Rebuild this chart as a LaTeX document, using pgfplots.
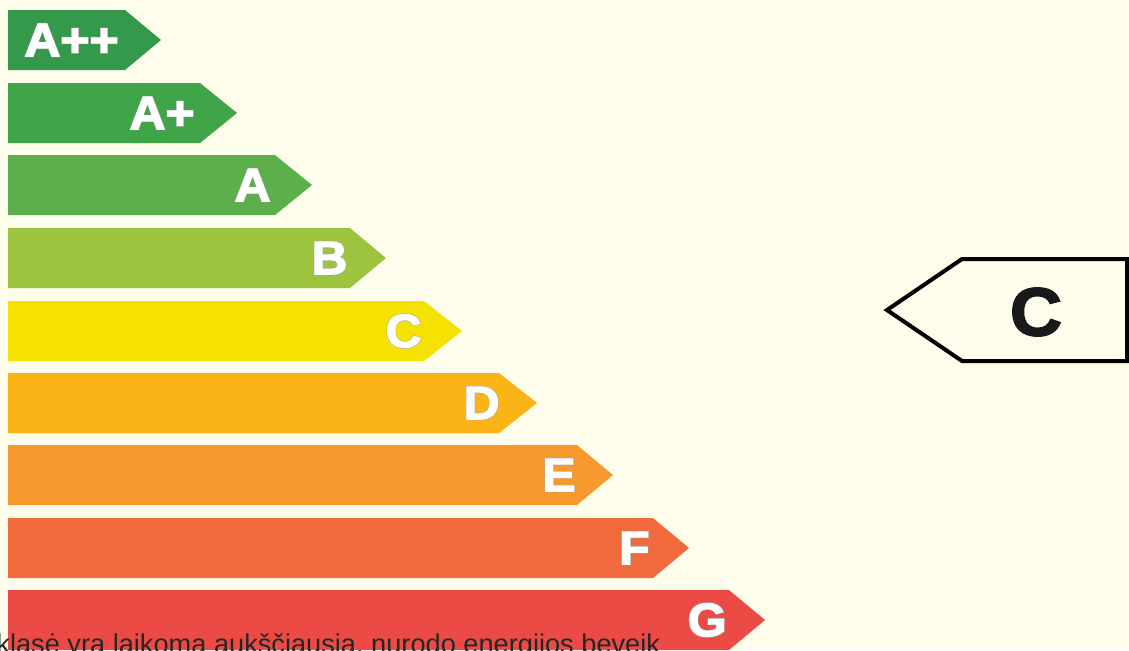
\documentclass[border=0pt]{standalone}
\usepackage{pgfplots}
\pgfplotsset{compat=1.18}
\usepackage{fontspec}
\setmainfont{Liberation Sans}
\newfontfamily\heavy[BoldFeatures={FakeBold=2.5,FakeStretch=1.06}]{Liberation Sans}
\newfontfamily\heavyrim[BoldFeatures={FakeBold=4.5,FakeStretch=1.06}]{Liberation Sans}

\definecolor{bg}{HTML}{FEFCEB}
\definecolor{cApp}{HTML}{34994A}
\definecolor{cAp}{HTML}{40A448}
\definecolor{cA}{HTML}{5DAF4B}
\definecolor{cB}{HTML}{9CC43F}
\definecolor{cC}{HTML}{F6E202}
\definecolor{cD}{HTML}{FAB416}
\definecolor{cE}{HTML}{F6992E}
\definecolor{cF}{HTML}{F16A3C}
\definecolor{cG}{HTML}{EC4B45}

% class letter: a faint grey rim under the white face
\newcommand{\cls}[3]{%
  \node[anchor=east, inner sep=0pt, text=black!35,
        font=\heavyrim\bfseries\fontsize{23.5}{23.5}\selectfont] at (axis cs:#1,#2) {#3};
  \node[anchor=east, inner sep=0pt, text=white,
        font=\heavy\bfseries\fontsize{23.5}{23.5}\selectfont] at (axis cs:#1,#2) {#3};}

\begin{document}
\begin{tikzpicture}
\useasboundingbox (0,0) rectangle (564.5pt,325pt);
\clip (0,0) rectangle (564.5pt,325pt);
\fill[bg] (0,0) rectangle (564.5pt,325pt);
\begin{axis}[
  at={(0,0)}, anchor=south west,
  scale only axis, width=564.5pt, height=325pt,
  xmin=0, xmax=1129, ymin=0, ymax=650,
  y dir=reverse, hide axis, clip=false,
]
% class arrows: (left,top) (body end,top) (tip,mid) (body end,bottom) (left,bottom)
\addplot[draw=none, fill=cApp] coordinates {(8,10) (125,10) (161,40) (125,70) (8,70)} -- cycle;
\addplot[draw=none, fill=cAp]  coordinates {(8,83) (200,83) (237,113) (200,143) (8,143)} -- cycle;
\addplot[draw=none, fill=cA]   coordinates {(8,155) (275,155) (312,185) (275,215) (8,215)} -- cycle;
\addplot[draw=none, fill=cB]   coordinates {(8,228) (350,228) (386,258) (350,288) (8,288)} -- cycle;
\addplot[draw=none, fill=cC]   coordinates {(8,301) (424,301) (462,331) (424,361) (8,361)} -- cycle;
\addplot[draw=none, fill=cD]   coordinates {(8,373) (499,373) (537,403) (499,433) (8,433)} -- cycle;
\addplot[draw=none, fill=cE]   coordinates {(8,445) (577,445) (613,475) (577,505) (8,505)} -- cycle;
\addplot[draw=none, fill=cF]   coordinates {(8,518) (653,518) (689,548) (653,578) (8,578)} -- cycle;
\addplot[draw=none, fill=cG]   coordinates {(8,590) (729,590) (765,620) (729,650) (8,650)} -- cycle;

\cls{119}{40}{A++}
\cls{195}{113}{A+}
\cls{271}{185}{A}
\cls{348}{258}{B}
\cls{422}{331}{C}
\cls{500}{403}{D}
\cls{576}{475}{E}
\cls{650}{548}{F}
\cls{727}{620}{G}

% indicator of the building's class
\addplot[draw=black, line width=2pt, line join=miter, fill=none]
  coordinates {(1127,259) (962,259) (887,310) (962,361) (1127,361)} -- cycle;
\node[font=\heavy\bfseries\fontsize{34}{34}\selectfont, inner sep=0pt, text=black!90] at (axis cs:1036,312) {C};

\node[anchor=base west, inner sep=0pt, text=black!85,
      font=\fontsize{13.6}{13.6}\selectfont] at (axis cs:-4,653)
  {klasė yra laikoma aukščiausia, nurodo energijos beveik};
\end{axis}
\end{tikzpicture}
\end{document}
